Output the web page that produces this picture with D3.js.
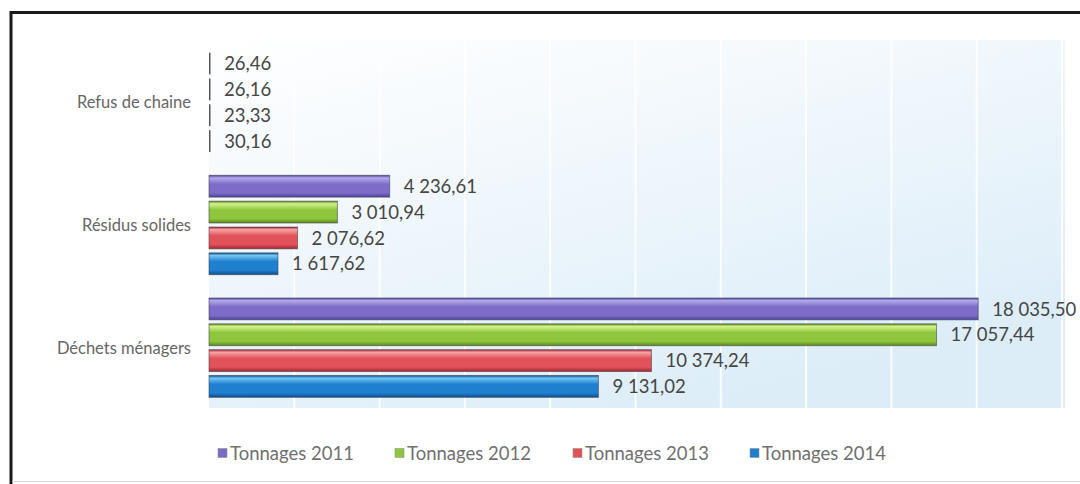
<!DOCTYPE html>
<html><head><meta charset="utf-8">
<script src="https://cdn.jsdelivr.net/npm/d3@7"></script>
<style>
html,body{margin:0;padding:0;background:#fff;}
svg{display:block;font-family:Lato,"Open Sans",sans-serif;}
</style></head>
<body><svg id="c" width="1080" height="484"></svg>
<script>
// ---- data ----
const categories = ["Refus de chaine", "Résidus solides", "Déchets ménagers"];
const seriesNames = ["Tonnages 2011", "Tonnages 2012", "Tonnages 2013", "Tonnages 2014"];
const values2011 = [26.46, 4236.61, 18035.50];
const values2012 = [26.16, 3010.94, 17057.44];
const values2013 = [23.33, 2076.62, 10374.24];
const values2014 = [30.16, 1617.62, 9131.02];
const gridTicks = [0, 2000, 4000, 6000, 8000, 10000, 12000, 14000, 16000, 18000, 20000];

const seriesValues = [values2011, values2012, values2013, values2014];
const colors = [
  ["#b3aaea", "#7d6dc8", "#4f4199"],
  ["#d2f28a", "#8fc63e", "#5a8a1c"],
  ["#f8a3a3", "#e1525a", "#a4262e"],
  ["#74c6f3", "#1f80d0", "#0c4d8e"]
];
const legendColors = ["#7b6bc6", "#8cc63f", "#e0525a", "#1f7fcf"];

const svg = d3.select("#c");
const defs = svg.append("defs");

// frame
svg.append("line").attr("x1", 11).attr("x2", 11).attr("y1", 11).attr("y2", 484).attr("stroke", "#1a1a1a").attr("stroke-width", 3);
svg.append("line").attr("x1", 10).attr("x2", 1080).attr("y1", 12.5).attr("y2", 12.5).attr("stroke", "#1a1a1a").attr("stroke-width", 3);
svg.append("line").attr("x1", 12).attr("x2", 1080).attr("y1", 481.5).attr("y2", 481.5).attr("stroke", "#d8d8d8").attr("stroke-width", 1);

const x = d3.scaleLinear().domain([0, 20000]).range([209, 1062]);
const y0 = d3.scaleBand().domain(categories).range([41, 409]).paddingInner(0.19).paddingOuter(0.095);
const y1 = d3.scaleBand().domain(seriesNames).range([0, y0.bandwidth()]).paddingInner(0.155);

// plot background
const bg = defs.append("linearGradient").attr("id", "bg").attr("x1", "0").attr("y1", "0").attr("x2", "0.6").attr("y2", "1");
bg.append("stop").attr("offset", "0%").attr("stop-color", "#ffffff");
bg.append("stop").attr("offset", "45%").attr("stop-color", "#f0f7fc");
bg.append("stop").attr("offset", "100%").attr("stop-color", "#dcedf8");

svg.append("rect").attr("x", x(0)).attr("y", 40).attr("width", x(20000) - x(0) + 3).attr("height", 368).attr("fill", "url(#bg)");

// gridlines
svg.append("g").selectAll("line").data(gridTicks.slice(1)).join("line")
  .attr("x1", d => x(d)).attr("x2", d => x(d))
  .attr("y1", 40).attr("y2", 408)
  .attr("stroke", "#ffffff").attr("stroke-width", 2).attr("opacity", 0.9);

// bar gradients
colors.forEach((c, i) => {
  const g = defs.append("linearGradient").attr("id", "g" + i).attr("x1", 0).attr("y1", 0).attr("x2", 0).attr("y2", 1);
  g.append("stop").attr("offset", "0%").attr("stop-color", c[2]);
  g.append("stop").attr("offset", "12%").attr("stop-color", c[0]);
  g.append("stop").attr("offset", "40%").attr("stop-color", c[1]);
  g.append("stop").attr("offset", "80%").attr("stop-color", c[1]);
  g.append("stop").attr("offset", "100%").attr("stop-color", c[2]);
});

const fr = d3.formatLocale({decimal: ",", thousands: " ", grouping: [3], currency: ["", ""]});
const fmt = fr.format(",.2f");

const rows = [];
categories.forEach((cat, ci) => {
  seriesNames.forEach((s, si) => {
    rows.push({cat, s, si, v: seriesValues[si][ci]});
  });
});

const bars = svg.append("g");
bars.selectAll("rect").data(rows).join("rect")
  .attr("x", x(0))
  .attr("y", d => y0(d.cat) + y1(d.s))
  .attr("width", d => Math.max(1.5, x(d.v) - x(0)))
  .attr("height", y1.bandwidth())
  .attr("fill", d => d.v < 100 ? "#555" : `url(#g${d.si})`)
  .attr("stroke", d => d.v < 100 ? "none" : "#3a3a4a")
  .attr("stroke-opacity", 0.55)
  .attr("stroke-width", 1);

svg.append("g").selectAll("text").data(rows).join("text")
  .attr("x", d => x(d.v) + 14)
  .attr("y", d => y0(d.cat) + y1(d.s) + y1.bandwidth() / 2)
  .attr("dy", "0.36em")
  .attr("font-size", 18.5)
  .attr("fill", "#454545")
  .text(d => fmt(d.v));

// category labels
svg.append("g").selectAll("text").data(categories).join("text")
  .attr("x", 191)
  .attr("y", d => y0(d) + y0.bandwidth() / 2)
  .attr("dy", "0.36em")
  .attr("text-anchor", "end")
  .attr("font-size", 16.5)
  .attr("fill", "#666")
  .text(d => d);

// legend
const legX = [218, 395, 573, 750];
const leg = svg.append("g").selectAll("g").data(seriesNames).join("g")
  .attr("transform", (d, i) => `translate(${legX[i]},453)`);
leg.append("rect").attr("x", 0).attr("y", -4.5).attr("width", 9).attr("height", 9)
  .attr("fill", (d, i) => legendColors[i]).attr("stroke", "#888").attr("stroke-width", 0.5);
leg.append("text").attr("x", 12).attr("y", 0).attr("dy", "0.36em")
  .attr("font-size", 18.5).attr("fill", "#707070").text(d => d);
</script></body></html>
